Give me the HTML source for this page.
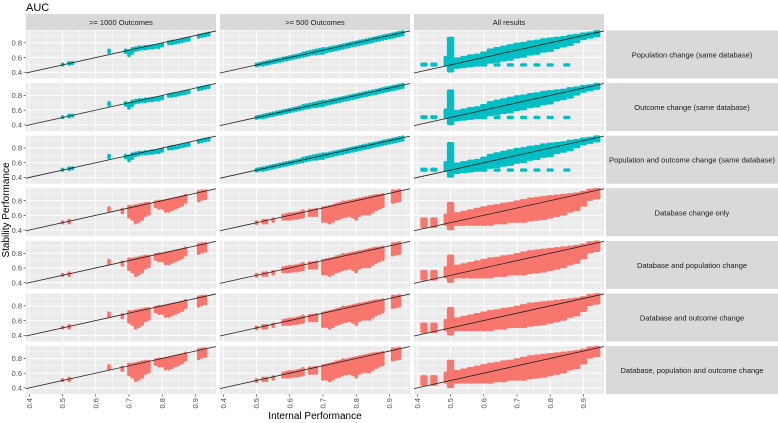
<!DOCTYPE html>
<html><head><meta charset="utf-8"><style>
html,body{margin:0;padding:0;background:#fff;}
svg{display:block;font-family:"Liberation Sans",sans-serif;}
</style></head><body>
<svg id="chart" width="778" height="423" xmlns="http://www.w3.org/2000/svg">
<text x="26" y="11" font-size="11" fill="#000">AUC</text>
<text transform="translate(9,210) rotate(-90)" text-anchor="middle" font-size="10" fill="#000">Stability Performance</text>
<text x="315" y="419" text-anchor="middle" font-size="10" fill="#000">Internal Performance</text>
<g id="panels"></g>
</svg>
<script>
const colLabels = [">= 1000 Outcomes", ">= 500 Outcomes", "All results"];
const rowLabels = ["Population change (same database)","Outcome change (same database)","Population and outcome change (same database)","Database change only","Database and population change","Database and outcome change","Database, population and outcome change"];
const xTicks = [0.4,0.5,0.6,0.7,0.8,0.9];
const yTicks = [0.4,0.6,0.8];
// streaks: [x, yLow, yHigh]
const cyanCol1 = [[0.50,0.50,0.51],[0.52,0.51,0.53],[0.53,0.52,0.53],[0.64,0.67,0.70],[0.69,0.67,0.70],[0.70,0.63,0.69],[0.71,0.66,0.72],[0.72,0.70,0.73],[0.73,0.71,0.74],[0.74,0.72,0.74],[0.75,0.72,0.75],[0.76,0.73,0.75],[0.77,0.73,0.76],[0.78,0.74,0.76],[0.79,0.74,0.77],[0.80,0.76,0.78],[0.82,0.79,0.81],[0.83,0.79,0.82],[0.84,0.80,0.82],[0.85,0.81,0.83],[0.86,0.82,0.84],[0.87,0.83,0.85],[0.88,0.84,0.86],[0.91,0.88,0.90],[0.92,0.89,0.91],[0.93,0.90,0.92],[0.94,0.91,0.93]];
const cyanCol2 = [[0.50,0.49,0.51],[0.51,0.50,0.52],[0.52,0.50,0.53],[0.53,0.51,0.54],[0.54,0.52,0.55],[0.55,0.53,0.56],[0.56,0.54,0.57],[0.57,0.55,0.58],[0.58,0.56,0.59],[0.59,0.57,0.60],[0.60,0.58,0.61],[0.61,0.59,0.62],[0.62,0.60,0.63],[0.63,0.61,0.64],[0.64,0.62,0.66],[0.65,0.63,0.67],[0.66,0.64,0.68],[0.67,0.65,0.69],[0.68,0.65,0.70],[0.69,0.66,0.71],[0.70,0.66,0.72],[0.71,0.68,0.72],[0.72,0.69,0.73],[0.73,0.70,0.74],[0.74,0.71,0.75],[0.75,0.72,0.76],[0.76,0.73,0.77],[0.77,0.74,0.78],[0.78,0.75,0.79],[0.79,0.76,0.80],[0.80,0.77,0.81],[0.81,0.78,0.82],[0.82,0.79,0.83],[0.83,0.80,0.84],[0.84,0.81,0.85],[0.85,0.82,0.86],[0.86,0.83,0.87],[0.87,0.84,0.88],[0.88,0.85,0.89],[0.89,0.86,0.90],[0.90,0.87,0.91],[0.91,0.88,0.92],[0.92,0.89,0.93],[0.93,0.90,0.94],[0.94,0.91,0.95]];
const cyanCol3 = [[0.42,0.50,0.51],[0.45,0.50,0.51],[0.49,0.50,0.60],[0.50,0.42,0.86],[0.52,0.47,0.58],[0.54,0.48,0.60],[0.56,0.49,0.62],[0.58,0.50,0.63],[0.60,0.52,0.66],[0.62,0.54,0.70],[0.64,0.55,0.72],[0.66,0.57,0.74],[0.68,0.58,0.76],[0.70,0.61,0.78],[0.72,0.62,0.79],[0.74,0.65,0.81],[0.76,0.66,0.82],[0.78,0.69,0.84],[0.80,0.70,0.85],[0.82,0.74,0.86],[0.84,0.76,0.87],[0.86,0.78,0.89],[0.88,0.82,0.90],[0.90,0.86,0.92],[0.92,0.88,0.93],[0.94,0.90,0.95],[0.60,0.50,0.50],[0.64,0.50,0.50],[0.68,0.50,0.50],[0.72,0.50,0.50],[0.76,0.50,0.50],[0.80,0.50,0.50],[0.85,0.50,0.50]];
const redCol1 = [[0.50,0.50,0.51],[0.52,0.50,0.53],[0.64,0.66,0.70],[0.68,0.64,0.68],[0.70,0.58,0.72],[0.71,0.55,0.72],[0.72,0.50,0.73],[0.73,0.52,0.74],[0.74,0.55,0.75],[0.75,0.60,0.76],[0.76,0.62,0.76],[0.78,0.72,0.78],[0.79,0.70,0.79],[0.80,0.70,0.79],[0.81,0.66,0.80],[0.82,0.66,0.81],[0.83,0.68,0.82],[0.84,0.70,0.83],[0.85,0.72,0.84],[0.86,0.74,0.85],[0.87,0.78,0.87],[0.91,0.80,0.92],[0.92,0.82,0.93],[0.93,0.83,0.93]];
const redCol2 = [[0.50,0.49,0.51],[0.52,0.50,0.53],[0.53,0.50,0.53],[0.55,0.52,0.55],[0.58,0.55,0.60],[0.59,0.55,0.61],[0.60,0.55,0.62],[0.61,0.56,0.62],[0.62,0.56,0.63],[0.63,0.57,0.64],[0.64,0.58,0.66],[0.66,0.60,0.67],[0.67,0.60,0.67],[0.68,0.60,0.68],[0.70,0.52,0.70],[0.71,0.52,0.71],[0.72,0.50,0.72],[0.73,0.52,0.73],[0.74,0.55,0.75],[0.75,0.56,0.76],[0.76,0.58,0.78],[0.77,0.59,0.78],[0.78,0.60,0.79],[0.79,0.58,0.80],[0.80,0.55,0.81],[0.81,0.60,0.82],[0.82,0.62,0.83],[0.83,0.62,0.84],[0.84,0.62,0.85],[0.85,0.65,0.86],[0.86,0.68,0.87],[0.87,0.70,0.87],[0.88,0.72,0.88],[0.91,0.78,0.93],[0.92,0.79,0.93],[0.93,0.80,0.94]];
const redCol3 = [[0.42,0.45,0.55],[0.45,0.45,0.55],[0.49,0.48,0.60],[0.50,0.42,0.76],[0.52,0.48,0.62],[0.54,0.48,0.64],[0.56,0.48,0.66],[0.58,0.48,0.68],[0.60,0.48,0.70],[0.62,0.48,0.72],[0.64,0.50,0.73],[0.66,0.50,0.75],[0.68,0.52,0.76],[0.70,0.52,0.78],[0.72,0.52,0.80],[0.74,0.54,0.82],[0.76,0.55,0.83],[0.78,0.56,0.84],[0.80,0.58,0.85],[0.82,0.60,0.86],[0.84,0.62,0.87],[0.86,0.66,0.88],[0.88,0.68,0.89],[0.90,0.74,0.91],[0.92,0.82,0.94],[0.94,0.84,0.95]];

const NS = "http://www.w3.org/2000/svg";
const colX = [26, 220, 414], colW = 190;
const rowY0 = 30.5, rowPitch = 52.6, rowH = 48;
const X0 = 0.39, X1 = 0.962, Y0 = 0.315, Y1 = 0.968;
function mk(tag, attrs, parent){const e=document.createElementNS(NS,tag);for(const k in attrs)e.setAttribute(k,attrs[k]);parent.appendChild(e);return e;}
const root = document.getElementById("panels");
function panelData(r,c){
  if(r<3) return [cyanCol1,cyanCol2,cyanCol3][c];
  return [redCol1,redCol2,redCol3][c];
}
for(let c=0;c<3;c++){
  const s = mk("rect",{x:colX[c],y:14,width:colW,height:16,fill:"#D9D9D9"},root);
  
  
  const t = mk("text",{x:colX[c]+colW/2,y:25,"text-anchor":"middle","font-size":"7.5",fill:"#1a1a1a"},root);
  t.textContent = colLabels[c];
  
  
}
for(let r=0;r<7;r++){
  const top = rowY0 + r*rowPitch;
  const sx = mk("rect",{x:606,y:top,width:172,height:rowH,fill:"#D9D9D9"},root);
  
  
  const st = mk("text",{x:692,y:top+rowH/2+3,"text-anchor":"middle","font-size":"7.5",fill:"#1a1a1a"},root);
  st.textContent = rowLabels[r];
  
  
  for(let c=0;c<3;c++){
    const left = colX[c];
    const xs = v => left + (v-X0)/(X1-X0)*colW;
    const ys = v => top + (Y1-v)/(Y1-Y0)*rowH;
    const g = mk("g",{},root);
    
    
    mk("rect",{x:left,y:top,width:colW,height:rowH,fill:"#EBEBEB"},g);
    for(let i=0;i<xTicks.length;i++){
      const v=xTicks[i];
      mk("line",{x1:xs(v),x2:xs(v),y1:top,y2:top+rowH,stroke:"#fff","stroke-width":1},g);
      mk("line",{x1:xs(v+0.05),x2:xs(v+0.05),y1:top,y2:top+rowH,stroke:"#fff","stroke-width":0.5},g);
    }
    for(let i=0;i<yTicks.length;i++){
      const v=yTicks[i];
      mk("line",{x1:left,x2:left+colW,y1:ys(v),y2:ys(v),stroke:"#fff","stroke-width":1},g);
      mk("line",{x1:left,x2:left+colW,y1:ys(v+0.1),y2:ys(v+0.1),stroke:"#fff","stroke-width":0.5},g);
    }
    const color = r<3 ? "#00BFC4" : "#F8766D";
    const data = panelData(r,c);
    const band = c==2 ? 0.022 : 0.011;
    for(let i=0;i<data.length;i++){
      const d=data[i];
      const w = Math.max(3.4, band/(X1-X0)*colW);
      const y1 = ys(d[2])-1.7, y2 = ys(d[1])+1.7;
      const p = mk("rect",{x:xs(d[0])-w/2,y:y1,width:w,height:y2-y1,rx:1.7,fill:color},g);
      
      
    }
    const ln = mk("line",{x1:xs(X0),y1:ys(X0),x2:xs(X1),y2:ys(X1),stroke:"#222","stroke-width":0.8},g);
    
    
    if(c==0){
      for(let i=0;i<yTicks.length;i++){
        const v=yTicks[i];
        mk("line",{x1:left-2.5,x2:left,y1:ys(v),y2:ys(v),stroke:"#333","stroke-width":0.6},root);
        const yt = mk("text",{x:left-4,y:ys(v)+2.7,"text-anchor":"end","font-size":"7.5",fill:"#4d4d4d"},root);
        yt.textContent = v.toFixed(1);
        
        
      }
    }
    if(r==6){
      for(let i=0;i<xTicks.length;i++){
        const v=xTicks[i];
        mk("line",{x1:xs(v),x2:xs(v),y1:top+rowH,y2:top+rowH+2.5,stroke:"#333","stroke-width":0.6},root);
        const xt = mk("text",{transform:`translate(${xs(v)+2.7},${top+rowH+4}) rotate(-90)`,"text-anchor":"end","font-size":"7.5",fill:"#4d4d4d"},root);
        xt.textContent = v.toFixed(1);
        
        
      }
    }
  }
}
</script>
</body></html>
